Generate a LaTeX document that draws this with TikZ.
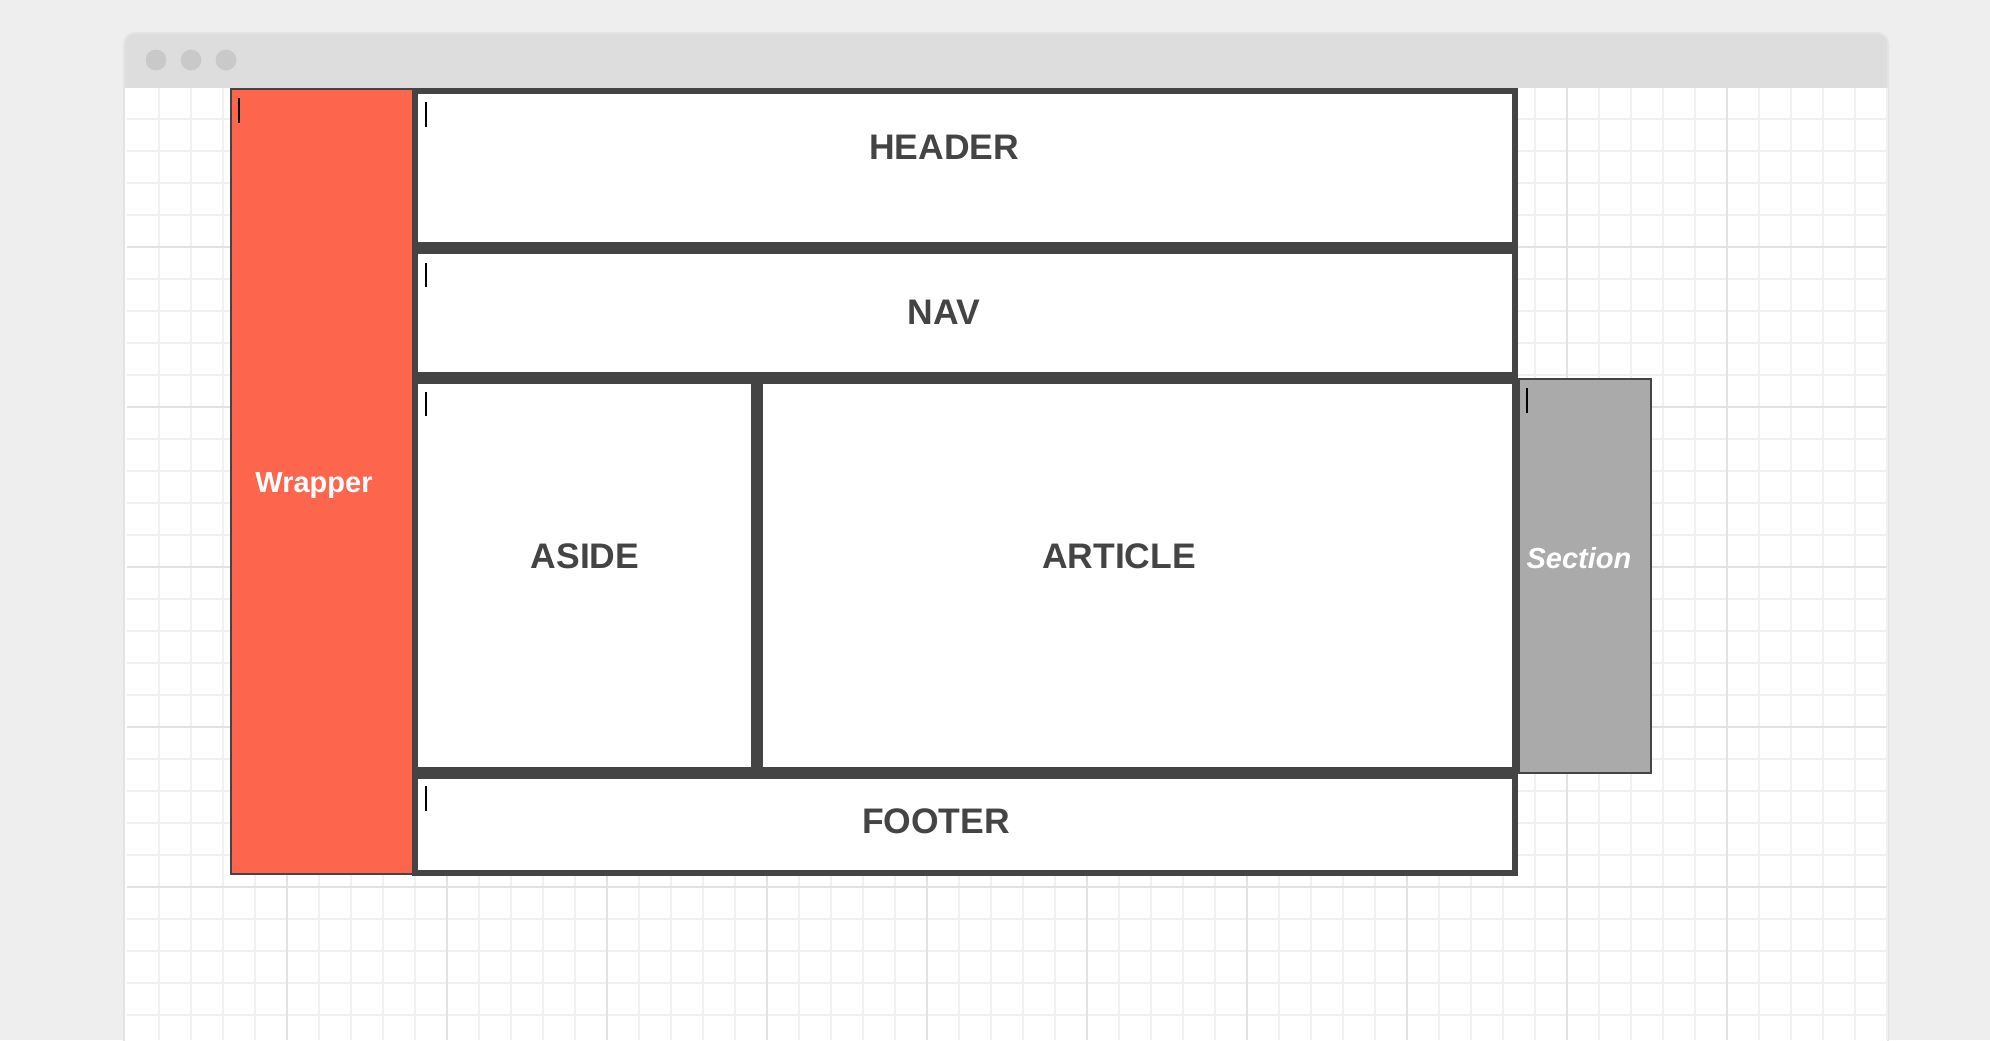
\documentclass[tikz,border=0pt]{standalone}
\usepackage{fontspec}
\setmainfont{Liberation Sans}
\usetikzlibrary{fit}

\definecolor{pagebg}{HTML}{EEEEEE}
\definecolor{shadowgrey}{HTML}{E4E4E4}
\definecolor{titlebar}{HTML}{DDDDDD}
\definecolor{dotgrey}{HTML}{C9C9C9}
\definecolor{gridminor}{HTML}{F0F0F0}
\definecolor{gridmajor}{HTML}{E2E2E2}
\definecolor{ink}{HTML}{444444}
\definecolor{wrapperred}{HTML}{FE654D}
\definecolor{sectiongrey}{HTML}{AAAAAA}

\begin{document}
\begin{tikzpicture}[x=0.5pt, y=-0.5pt,
  panel/.style={draw=ink, fill=white, line width=3pt, inner sep=0pt, outer sep=0pt},
  wrapbox/.style={draw=ink, fill=wrapperred, line width=1pt, inner sep=0pt, outer sep=0pt},
  sectbox/.style={draw=ink, fill=sectiongrey, line width=1pt, inner sep=0pt, outer sep=0pt},
  paneltext/.style={anchor=base, inner sep=0pt, text=ink,
    font=\fontsize{17.75pt}{20pt}\selectfont\bfseries},
  sidetext/.style={anchor=base, inner sep=0pt, text=white,
    font=\fontsize{14.5pt}{17pt}\selectfont\bfseries},
  caret/.style={draw=black, line width=1pt},
  minorline/.style={draw=gridminor, line width=0.75pt},
  majorline/.style={draw=gridmajor, line width=0.75pt},
]
% page
\clip (0,0) rectangle (1990,1040);
\fill[pagebg] (0,0) rectangle (1990,1040);

% browser window
\fill[shadowgrey, rounded corners=6pt] (123,32) rectangle (1889,1100);
\fill[titlebar, rounded corners=5pt] (125,34) rectangle (1887,120);
\fill[white] (125,88) rectangle (1887,1100);
\foreach \cx in {156,191,226}
  \fill[dotgrey] (\cx,60) circle[radius=5.2pt];

% grid paper
\foreach \gx in {159,191,...,1887}
  \draw[minorline] (\gx,88) -- (\gx,1040);
\foreach \gy in {119,151,...,1040}
  \draw[minorline] (127,\gy) -- (1887,\gy);
\foreach \gx in {287,447,...,1727}
  \draw[majorline] (\gx,88) -- (\gx,1040);
\foreach \gy in {247,407,...,1040}
  \draw[majorline] (127,\gy) -- (1887,\gy);

% layout boxes
\node[wrapbox, fit={(231,89) (413,874)}] (wrapper) {};
\node[panel, fit={(415,91) (1515,245)}] (header) {};
\node[panel, fit={(415,251) (1515,375)}] (nav) {};
\node[panel, fit={(415,381) (754,770)}] (aside) {};
\node[panel, fit={(760,381) (1515,770)}] (article) {};
\node[panel, fit={(415,776) (1515,873)}] (footer) {};
\node[sectbox, fit={(1519,379) (1651,773)}] (section) {};

% labels
\node[paneltext] (headerlabel) at (944,159) {HEADER};
\node[paneltext] (navlabel) at (944,324) {NAV};
\node[paneltext] (asidelabel) at (585,568) {ASIDE};
\node[paneltext] (articlelabel) at (1119,568) {ARTICLE};
\node[paneltext] (footerlabel) at (936,833) {FOOTER};
\node[sidetext] (wrapperlabel) at (314,492) {Wrapper};
\node[sidetext, font=\fontsize{14.5pt}{17pt}\selectfont\bfseries\itshape] (sectionlabel) at (1579,568) {Section};

% text carets
\draw[caret] (239,98) -- (239,123);
\draw[caret] (426,102) -- (426,127);
\draw[caret] (426,263) -- (426,287);
\draw[caret] (426,392) -- (426,416);
\draw[caret] (426,786) -- (426,811);
\draw[caret] (1527,388) -- (1527,413);
\end{tikzpicture}
\end{document}
